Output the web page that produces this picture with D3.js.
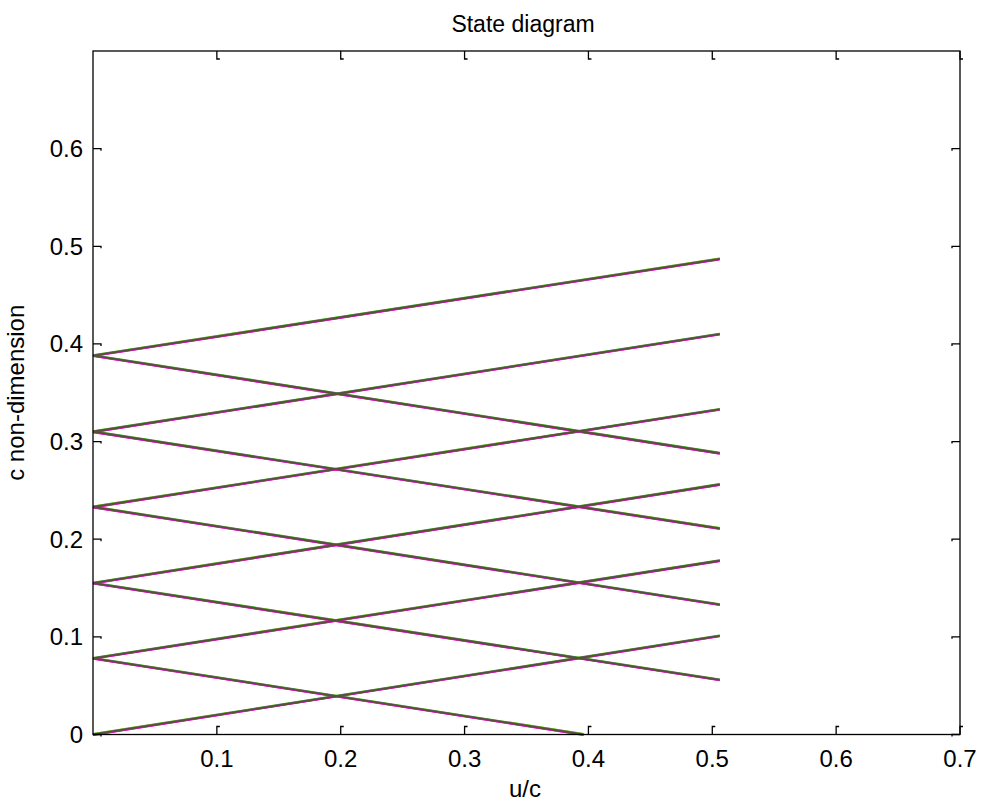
<!DOCTYPE html>
<html><head><meta charset="utf-8">
<script src="https://cdn.jsdelivr.net/npm/d3@7"></script>
<style>body{margin:0;background:#fff}svg{display:block}text{font-family:"Liberation Sans",Arial,sans-serif;fill:#000}</style>
</head><body><svg id="c" width="982" height="804"></svg>
<script>
const xTicks=[0.1,0.2,0.3,0.4,0.5,0.6,0.7];
const yTicks=[0,0.1,0.2,0.3,0.4,0.5,0.6];
const xEnd=0.506;
const ascStartY=[0,0.078,0.155,0.233,0.310,0.388];
const ascEndY=[0.101,0.178,0.256,0.333,0.410,0.487];
const descStartY=[0.078,0.155,0.233,0.310,0.388];
const descEndY=[0,0.056,0.133,0.211,0.288];
const descEndX=[0.396,xEnd,xEnd,xEnd,xEnd];

const svg=d3.select('#c');
const L=93,R=960,T=51,B=734.5;
const x=d3.scaleLinear().domain([0,0.7]).range([L,R]);
const y=d3.scaleLinear().domain([0,0.7]).range([B,T]);

const segs=[];
ascStartY.forEach((v,i)=>segs.push([[0,v],[xEnd,ascEndY[i]]]));
descStartY.forEach((v,i)=>segs.push([[0,v],[descEndX[i],descEndY[i]]]));
const line=d3.line().x(d=>x(d[0])).y(d=>y(d[1]));
const g=svg.append('g');
const cols=['#00a000','#c8c800','#3030ff','#00c0c0','#ff3030','#ff00ff'];
cols.forEach((c,k)=>{
  const off=(k-2.5)*0.3;
  g.selectAll(null).data(segs).enter().append('path')
   .attr('d',line).attr('transform',`translate(0,${off})`)
   .attr('fill','none').attr('stroke',c).attr('stroke-width',1.4);
});
g.selectAll(null).data(segs).enter().append('path')
 .attr('d',line).attr('fill','none').attr('stroke','#5a5038').attr('stroke-width',1.9);

// box
svg.append('rect').attr('x',L).attr('y',T).attr('width',R-L).attr('height',B-T)
 .attr('fill','none').attr('stroke','#000').attr('stroke-width',1.3);

const tk=svg.append('g').attr('stroke','#000').attr('stroke-width',1.3).attr('fill','none');
xTicks.forEach(t=>{
  const px=x(t);
  tk.append('path').attr('d',`M${px},${B}V${B-8}h3`);
  tk.append('path').attr('d',`M${px},${T}V${T+8}h3`);
});
yTicks.forEach(t=>{
  const py=y(t);
  tk.append('path').attr('d',`M${L},${py}H${L+8}v2`);
  tk.append('path').attr('d',`M${R},${py}H${R-8}v2`);
});

svg.selectAll(null).data(xTicks).enter().append('text')
 .attr('x',d=>x(d)).attr('y',B+32.5).attr('text-anchor','middle').attr('font-size',24).text(d=>d);
svg.selectAll(null).data(yTicks).enter().append('text')
 .attr('x',L-10).attr('y',d=>y(d)+8.5).attr('text-anchor','end').attr('font-size',24).text(d=>d);

svg.append('text').attr('x',523).attr('y',32).attr('text-anchor','middle').attr('font-size',23).text('State diagram');
svg.append('text').attr('x',525).attr('y',797).attr('text-anchor','middle').attr('font-size',24).text('u/c');
svg.append('text').attr('transform',`translate(24,${(T+B)/2}) rotate(-90)`).attr('text-anchor','middle').attr('font-size',24).text('c non-dimension');
</script></body></html>
